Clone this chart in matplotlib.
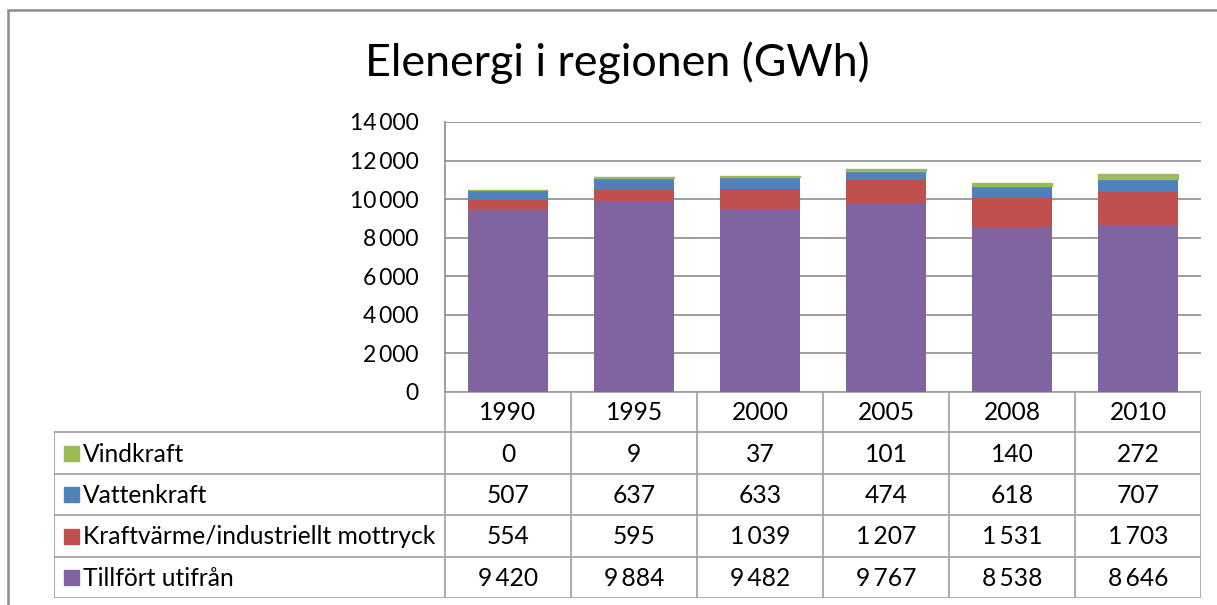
import matplotlib
matplotlib.use("Agg")
import matplotlib.pyplot as plt
from matplotlib.patches import Rectangle
import numpy as np

plt.rcParams['font.family'] = ['Lato', 'DejaVu Sans']

years = ["1990", "1995", "2000", "2005", "2008", "2010"]
series_names = ["Vindkraft", "Vattenkraft", "Kraftvärme/industriellt mottryck", "Tillfört utifrån"]
vindkraft = [0, 9, 37, 101, 140, 272]
vattenkraft = [507, 637, 633, 474, 618, 707]
kraftvarme = [554, 595, 1039, 1207, 1531, 1703]
tillfort = [9420, 9884, 9482, 9767, 8538, 8646]
colors = ["#9BBB59", "#4F81BD", "#C0504D", "#8064A2"]
yticks = [0, 2000, 4000, 6000, 8000, 10000, 12000, 14000]
title = "Elenergi i regionen (GWh)"

W, H = 1217, 605
fig = plt.figure(figsize=(W / 100, H / 100), dpi=100)

def fx(px):
    return px / W

def fy(py):
    return 1 - py / H

# outer frame
fig.patches.append(Rectangle((fx(8), fy(700)), fx(1300) - fx(8), fy(10) - fy(700),
                             transform=fig.transFigure, fill=False, edgecolor="#8c8c8c", lw=1.8))

fig.text(fx(617), fy(63), title, ha="center", va="center", fontsize=32.2, color="#000000")

# main axes
L, R, T, B = 445, 1201, 122, 392
ax = fig.add_axes([fx(L), fy(B), fx(R) - fx(L), fy(T) - fy(B)])
x = np.arange(len(years))
stack = [tillfort, kraftvarme, vattenkraft, vindkraft]
stack_colors = [colors[3], colors[2], colors[1], colors[0]]
bottom = np.zeros(len(years))
for vals, c in zip(stack, stack_colors):
    lw = 1.0 if c == colors[0] else 0
    ax.bar(x, vals, 0.64, bottom=bottom, color=c, edgecolor=c, lw=lw, zorder=3)
    bottom += np.array(vals)
ax.set_xlim(-0.5, len(years) - 0.5)
ax.set_ylim(0, 14000)
ax.set_yticks(yticks)
ax.set_yticklabels([f"{v:,}".replace(",", "\u2009") for v in yticks], fontsize=16.5)
ax.tick_params(axis="y", length=0, pad=19)
ax.set_xticks([])
ax.grid(axis="y", color="#8c8c8c", lw=1.2, zorder=0)
for s in ["top", "right", "bottom"]:
    ax.spines[s].set_visible(False)
ax.spines["left"].set_color("#8c8c8c")
ax.spines["left"].set_linewidth(1.2)

# data table
TL, TB = 54, 598
tab = fig.add_axes([fx(TL), fy(TB), fx(R) - fx(TL), fy(B) - fy(TB)])
units = (len(years)) / (R - L)
x0 = -0.5 - (L - TL) * units
tab.set_xlim(x0, len(years) - 0.5)
tab.set_ylim(TB, B)
tab.axis("off")
row_edges = [392, 432, 474, 515, 557, 598]
lc = "#a0a0a0"
tab.plot([-0.5, len(years) - 0.5], [row_edges[0]] * 2, color=lc, lw=1.2)
for yy in row_edges[1:]:
    tab.plot([x0, len(years) - 0.5], [yy] * 2, color=lc, lw=1.2)
for i in range(len(years) + 1):
    tab.plot([i - 0.5] * 2, [row_edges[0], row_edges[-1]], color=lc, lw=1.2)
tab.plot([x0] * 2, [row_edges[1], row_edges[-1]], color=lc, lw=1.2)

fs = 17.7
for i, yr in enumerate(years):
    tab.text(i, (row_edges[0] + row_edges[1]) / 2 + 1, yr, ha="center", va="center", fontsize=fs)
rows = [vindkraft, vattenkraft, kraftvarme, tillfort]
for r, (name, vals, c) in enumerate(zip(series_names, rows, colors)):
    yc = (row_edges[r + 1] + row_edges[r + 2]) / 2
    tab.add_patch(Rectangle((x0 + 10 * units, yc - 7.5), 15 * units, 15, color=c))
    tab.text(x0 + 29 * units, yc + 1, name, ha="left", va="center", fontsize=fs)
    for i, v in enumerate(vals):
        tab.text(i, yc + 1, f"{v:,}".replace(",", "\u2009"), ha="center", va="center", fontsize=fs)

fig.savefig("out.png", dpi=100)
